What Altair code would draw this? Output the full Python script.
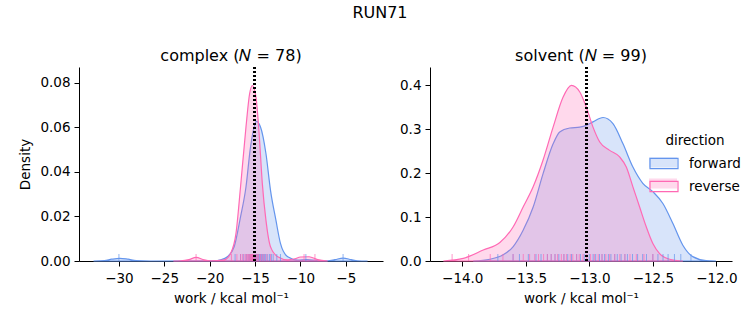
import altair as alt
import pandas as pd

# ---- data ----
directions = ["forward", "reverse"]

# complex panel KDE curves
cx_fwd = [-32.8, -31.6, -30.8, -29.9, -29.0, -28.1, -26.5, -19.5, -18.8, -18.05, -17.3, -16.6, -16.0, -15.5,
          -14.86, -14.4, -13.8, -13.3, -12.7, -12.2, -11.4, -10.3, -9.3, -8.1, -7.0, -6.2, -5.3, -4.4, -3.7, -2.6]
cy_fwd = [0, 0.0002, 0.0008, 0.0012, 0.0008, 0.0002, 0, 0.0001, 0.0005, 0.0019, 0.0064, 0.0198, 0.0332, 0.0511,
          0.0626, 0.0601, 0.0482, 0.0318, 0.0183, 0.0079, 0.0019, 0.0004, 0.0006, 0.0002, 0.0001, 0.0006, 0.0013,
          0.0006, 0.0001, 0]
cx_rev = [-24.0, -23.2, -22.3, -21.5, -20.6, -19.9, -18.4, -17.7, -17.1, -16.6, -16.0, -15.6, -15.3, -14.9,
          -14.55, -14.2, -13.8, -13.3, -12.5, -11.4, -10.6, -10.0, -9.05, -8.1, -7.0]
cy_rev = [0, 0.0001, 0.0006, 0.0016, 0.0005, 0.0001, 0.0005, 0.0034, 0.0124, 0.0332, 0.0601, 0.0750, 0.0787,
          0.0735, 0.0571, 0.0348, 0.0183, 0.0064, 0.0019, 0.0005, 0.0010, 0.0018, 0.0019, 0.0006, 0]

# solvent panel KDE curves
sx_fwd = [-13.914, -13.782, -13.678, -13.599, -13.521, -13.442, -13.364, -13.285, -13.233, -13.154, -13.075,
          -13.024, -12.971, -12.892, -12.814, -12.735, -12.657, -12.579, -12.500, -12.421, -12.343, -12.264,
          -12.186, -12.081, -12.003]
sy_fwd = [0, 0.004, 0.014, 0.033, 0.070, 0.123, 0.199, 0.267, 0.294, 0.303, 0.305, 0.309, 0.317, 0.327, 0.313,
          0.267, 0.214, 0.177, 0.158, 0.131, 0.086, 0.036, 0.010, 0.001, 0]
sx_rev = [-14.149, -13.992, -13.835, -13.704, -13.599, -13.521, -13.442, -13.364, -13.285, -13.207, -13.141,
          -13.075, -13.024, -12.971, -12.918, -12.840, -12.761, -12.709, -12.657, -12.604, -12.552, -12.500,
          -12.447, -12.368, -12.264]
sy_rev = [0, 0.006, 0.025, 0.042, 0.078, 0.123, 0.169, 0.230, 0.305, 0.373, 0.400, 0.385, 0.351, 0.305, 0.271,
          0.252, 0.237, 0.214, 0.169, 0.123, 0.078, 0.040, 0.017, 0.004, 0]

# rug samples
rug_c_fwd = [-30.0, -17.2, -16.6, -16.3, -16.0, -15.9, -15.7, -15.6, -15.5, -15.4, -15.3, -15.2, -15.1, -15.0,
             -14.95, -14.9, -14.8, -14.7, -14.65, -14.6, -14.5, -14.4, -14.3, -14.2, -14.1, -14.0, -13.9, -13.8,
             -13.6, -13.4, -13.2, -13.0, -12.6, -12.2, -9.4, -5.3]
rug_c_rev = [-21.5, -17.6, -17.0, -16.6, -16.4, -16.2, -16.0, -15.9, -15.8, -15.7, -15.6, -15.5, -15.45, -15.4,
             -15.35, -15.3, -15.25, -15.2, -15.1, -15.0, -14.9, -14.8, -14.7, -14.6, -14.4, -14.2, -14.0, -13.7,
             -13.3, -9.6, -8.4]
rug_s_fwd = [-13.72, -13.6, -13.55, -13.48, -13.42, -13.38, -13.33, -13.3, -13.27, -13.24, -13.2, -13.17, -13.14,
             -13.1, -13.07, -13.04, -13.0, -12.97, -12.95, -12.92, -12.9, -12.88, -12.85, -12.83, -12.8, -12.78,
             -12.75, -12.72, -12.7, -12.66, -12.62, -12.58, -12.55, -12.5, -12.46, -12.42, -12.38, -12.33,
             -12.28, -12.2]
rug_s_rev = [-14.08, -13.95, -13.78, -13.68, -13.6, -13.52, -13.47, -13.43, -13.4, -13.36, -13.33, -13.3, -13.27,
             -13.25, -13.22, -13.2, -13.18, -13.15, -13.13, -13.1, -13.08, -13.05, -13.02, -12.99, -12.96, -12.93,
             -12.9, -12.87, -12.84, -12.8, -12.76, -12.72, -12.68, -12.63, -12.57, -12.5]

vline_complex = -15.1
vline_solvent = -13.02

complex_ticks = [-30, -25, -20, -15, -10, -5]
complex_yticks = [0.0, 0.02, 0.04, 0.06, 0.08]
solvent_ticks = [-14.0, -13.5, -13.0, -12.5, -12.0]
solvent_yticks = [0.0, 0.1, 0.2, 0.3, 0.4]

colors = ["#6495ED", "#FF69B4"]
FONT = "DejaVu Sans"
FS = 13.5
PH = 194

fill_scale = alt.Scale(domain=directions, range=colors)
# same mapping, listed in the other order so the outline legend stays separate from the fill legend
stroke_scale = alt.Scale(domain=directions[::-1], range=colors[::-1])
fill_legend = alt.Legend(title="direction", symbolOpacity=0.25, symbolStrokeWidth=0,
                         labelOpacity=0, titleOpacity=0)
stroke_legend = alt.Legend(title="direction", values=directions, symbolFillColor="transparent",
                           symbolStrokeWidth=1.2)


def curve_df(xf, yf, xr, yr):
    return pd.concat([
        pd.DataFrame({"x": xf, "y": yf, "direction": "forward"}),
        pd.DataFrame({"x": xr, "y": yr, "direction": "reverse"}),
    ])


def rug_df(f, r):
    return pd.concat([
        pd.DataFrame({"x": f, "direction": "forward"}),
        pd.DataFrame({"x": r, "direction": "reverse"}),
    ])


def panel(cdf, rdf, vline, xdom, ydom, xticks, yticks, xfmt, yfmt, title, ytitle, width):
    xs = alt.Scale(domain=xdom, nice=False, zero=False)
    ys = alt.Scale(domain=ydom, nice=False, zero=False)
    xaxis = alt.Axis(values=xticks, format=xfmt, title="work / kcal mol⁻¹")
    yaxis = alt.Axis(values=yticks, format=yfmt, title=ytitle) if ytitle else alt.Axis(values=yticks, format=yfmt, title=None)
    area = alt.Chart(cdf).mark_area(fillOpacity=0.25, strokeWidth=1.2, interpolate="monotone").encode(
        x=alt.X("x:Q", scale=xs, axis=xaxis),
        y=alt.Y("y:Q", scale=ys, axis=yaxis, stack=None),
        fill=alt.Fill("direction:N", scale=fill_scale, legend=fill_legend),
        stroke=alt.Stroke("direction:N", scale=stroke_scale, legend=stroke_legend),
    )
    rug = alt.Chart(rdf).mark_rule(strokeWidth=1, strokeOpacity=0.7).encode(
        x=alt.X("x:Q", scale=xs),
        y=alt.value(PH - 7),
        y2=alt.value(PH),
        stroke=alt.Stroke("direction:N", scale=stroke_scale, legend=stroke_legend),
    )
    vl = alt.Chart(cdf).mark_rule(color="black", strokeDash=[2, 2], strokeWidth=2).encode(
        x=alt.datum(vline, scale=xs)
    )
    return alt.layer(area, rug, vl).properties(
        width=width, height=PH,
        title=alt.TitleParams(title, fontSize=16, font=FONT, fontWeight="normal", offset=2),
    )


left = panel(curve_df(cx_fwd, cy_fwd, cx_rev, cy_rev), rug_df(rug_c_fwd, rug_c_rev), vline_complex,
             [-34.4, -0.9], [0, 0.087], complex_ticks, complex_yticks, "d", ".2f",
             "complex (𝑁 = 78)", "Density", 304)
right = panel(curve_df(sx_fwd, sy_fwd, sx_rev, sy_rev), rug_df(rug_s_fwd, rug_s_rev), vline_solvent,
              [-14.254, -11.877], [0, 0.442], solvent_ticks, solvent_yticks, ".1f", ".1f",
              "solvent (𝑁 = 99)", None, 302)

chart = alt.hconcat(left, right, spacing=16).resolve_scale(
    x="independent", y="independent"
).properties(
    title=alt.TitleParams("RUN71", fontSize=16, font=FONT, fontWeight="normal", anchor="middle", offset=27),
    padding={"left": 18, "top": 5, "right": 5, "bottom": 5},
).configure_view(stroke=None).configure_axis(
    domainColor="black", tickColor="black", labelColor="black", titleColor="black",
    labelFont=FONT, titleFont=FONT, labelFontSize=FS, titleFontSize=FS, titleFontWeight="normal",
    grid=False, tickSize=5, zindex=1,
).configure_axisX(labelPadding=5, titlePadding=7).configure_axisY(labelPadding=4, titlePadding=7).configure_legend(
    orient="none", legendX=570, legendY=67,
    titleFont=FONT, labelFont=FONT, titleFontSize=FS, labelFontSize=FS, titleFontWeight="normal",
    titleColor="black", labelColor="black", titleAnchor="middle",
    symbolType="M-1,-0.36L1,-0.36L1,0.36L-1,0.36Z", symbolSize=784,
    rowPadding=-1, labelOffset=10, titlePadding=1,
)

chart.save("out.html", embed_options={"renderer": "svg", "actions": False})
